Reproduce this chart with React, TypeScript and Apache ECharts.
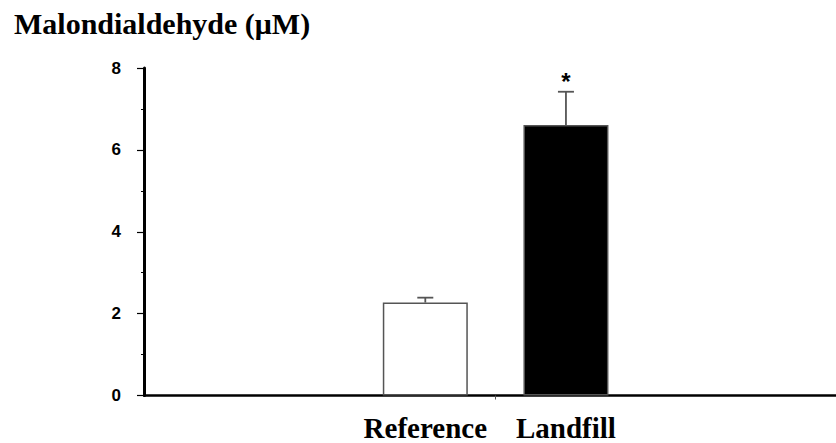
import React, { useEffect, useRef } from "react";
import * as echarts from "echarts";

const groups = ["Reference", "Landfill"];
const groupPos = [1, 2];
const means = [2.27, 6.61];
const errTops = [2.39, 7.42];
const sigMarks = ["", "*"];
const barColors = ["#ffffff", "#000000"];
const yTicks = [0, 2, 4, 6, 8];

export default function App() {
  const ref = useRef<HTMLDivElement>(null);
  useEffect(() => {
    if (!ref.current) return;
    const chart = echarts.init(ref.current, null, { renderer: "svg" });
    const option: any = {
      animation: false,
      backgroundColor: "#ffffff",
      title: {
        text: "Malondialdehyde (μM)",
        left: 14,
        top: 8,
        padding: 0,
        textStyle: {
          fontFamily: "Liberation Serif",
          fontWeight: "bold",
          fontSize: 30,
          color: "#000",
        },
      },
      grid: { left: 144, right: 0, top: 68, bottom: 47.5, containLabel: false },
      xAxis: {
        type: "value",
        min: -1,
        max: 3.92,
        splitLine: { show: false },
        axisLine: { show: true, onZero: false, lineStyle: { color: "#000", width: 2.5 } },
        axisTick: {
          show: true,
          customValues: [1.5],
          length: 4,
          lineStyle: { color: "#555", width: 1 },
        },
        axisLabel: {
          customValues: groupPos,
          formatter: (v: number) => {
            const i = groupPos.indexOf(Math.round(v));
            return i >= 0 ? groups[i] : "";
          },
          margin: 18,
          lineHeight: 28,
          fontFamily: "Liberation Serif",
          fontWeight: "bold",
          fontSize: 29,
          color: "#000",
        },
      },
      yAxis: {
        type: "value",
        min: yTicks[0],
        max: yTicks[yTicks.length - 1],
        interval: 2,
        splitLine: { show: false },
        axisLine: { show: true, onZero: false, lineStyle: { color: "#000", width: 3 } },
        axisTick: { show: true, length: 7, lineStyle: { color: "#000", width: 1.2 } },
        minorTick: { show: true, splitNumber: 2, length: 3, lineStyle: { color: "#000", width: 1 } },
        axisLabel: {
          margin: 23,
          fontFamily: "Liberation Sans",
          fontWeight: "bold",
          fontSize: 17,
          color: "#000",
        },
      },
      series: [
        {
          type: "bar",
          barWidth: 85,
          data: groupPos.map((x, i) => ({
            value: [x, means[i]],
            itemStyle: { color: barColors[i], borderColor: "#555", borderWidth: 1.5 },
          })),
          z: 2,
        },
        {
          type: "custom",
          z: 3,
          data: groupPos.map((x, i) => [x, means[i], errTops[i], i]),
          renderItem: (params: any, api: any) => {
            const x = api.value(0);
            const lo = api.coord([x, api.value(1)]);
            const hi = api.coord([x, api.value(2)]);
            const idx = api.value(3);
            const half = 8;
            const children: any[] = [
              {
                type: "line",
                shape: { x1: lo[0], y1: lo[1], x2: hi[0], y2: hi[1] },
                style: { stroke: "#555", lineWidth: 1.8 },
              },
              {
                type: "line",
                shape: { x1: hi[0] - half, y1: hi[1], x2: hi[0] + half, y2: hi[1] },
                style: { stroke: "#555", lineWidth: 1.8 },
              },
            ];
            const mark = sigMarks[idx];
            if (mark) {
              children.push({
                type: "text",
                style: {
                  text: mark,
                  x: hi[0],
                  y: hi[1] + 2,
                  align: "center",
                  verticalAlign: "bottom",
                  fontFamily: "Liberation Sans",
                  fontWeight: "bold",
                  fontSize: 24,
                  fill: "#000",
                },
              });
            }
            return { type: "group", children };
          },
        },
      ],
    };
    chart.setOption(option);
    return () => chart.dispose();
  }, []);
  return (
    <div
      ref={ref}
      style={{ position: "fixed", left: 0, top: 0, width: 836, height: 443 }}
    />
  );
}
